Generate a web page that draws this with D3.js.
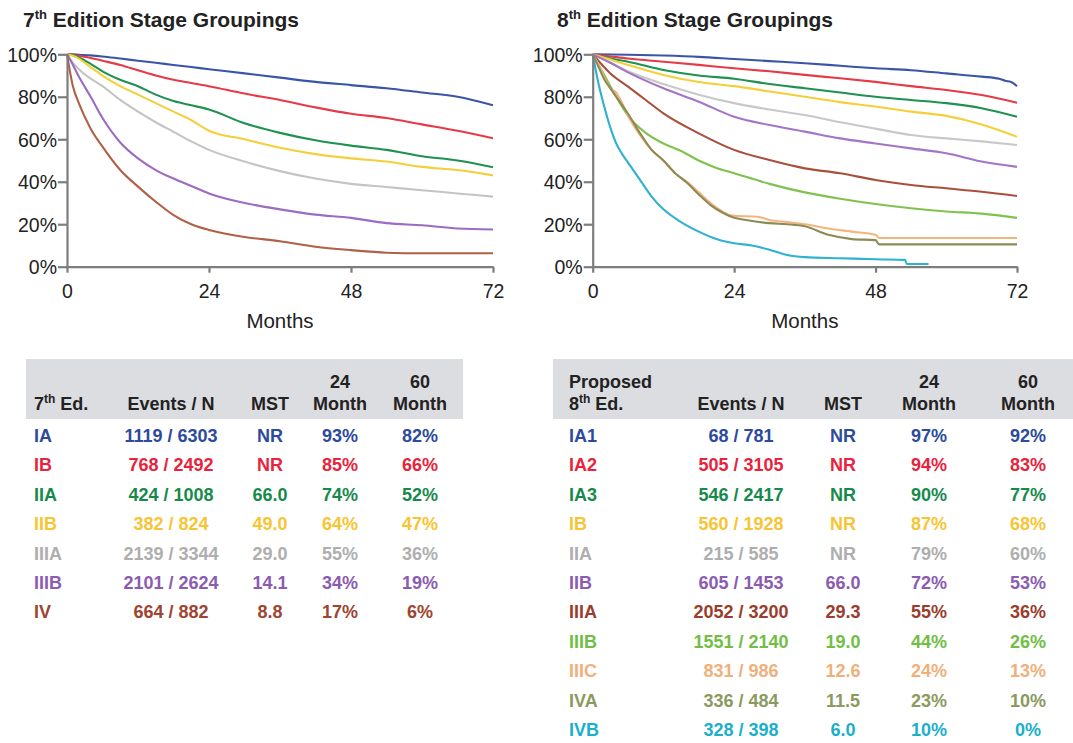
<!DOCTYPE html>
<html>
<head>
<meta charset="utf-8">
<script src="https://cdn.jsdelivr.net/npm/d3@7"></script>
<style>
  html, body { margin: 0; padding: 0; background: #fff; }
  svg { display: block; font-family: "Liberation Sans", Arial, Helvetica, sans-serif; }
</style>
</head>
<body>
<svg id="chart" width="1073" height="743"></svg>
<script>
// ---------------- DATA ----------------
const xTicks = [0, 24, 48, 72];
const yTicks = [0, 20, 40, 60, 80, 100];

// 7th edition
const stages7 = ["IA", "IB", "IIA", "IIB", "IIIA", "IIIB", "IV"];
const colors7 = ["#2c4a9e", "#e8233b", "#178a4b", "#f7c534", "#aeaeae", "#8b5cb1", "#9e4430"];
const lineColors7 = ["#3a55a8", "#e63a47", "#1f9150", "#f5cf3a", "#c4c4c4", "#9c6cc2", "#b06046"];
const events7 = ["1119 / 6303", "768 / 2492", "424 / 1008", "382 / 824", "2139 / 3344", "2101 / 2624", "664 / 882"];
const mst7 = ["NR", "NR", "66.0", "49.0", "29.0", "14.1", "8.8"];
const m24_7 = ["93%", "85%", "74%", "64%", "55%", "34%", "17%"];
const m60_7 = ["82%", "66%", "52%", "47%", "36%", "19%", "6%"];

const months7 = [0, 1, 2, 4, 6, 9, 12, 15, 18, 21, 24, 30, 36, 42, 48, 54, 60, 66, 72];
const surv7_IA   = [100, 100, 99.8, 99.5, 99, 98, 97, 96, 95, 94, 93, 91, 89, 87, 85.5, 84, 82, 80, 76];
const surv7_IB   = [100, 99.8, 99.3, 98.3, 97, 95, 92.5, 90, 88, 86.5, 85, 81.5, 78.5, 75, 72, 70, 67, 64, 60.5];
const surv7_IIA  = [100, 99.5, 98.5, 95.5, 92, 88, 85, 81, 78, 76, 74, 67.5, 63, 59.5, 57, 55, 52, 50, 46.8];
const surv7_IIB  = [100, 99.3, 98, 94, 90, 85, 81, 77, 73, 69, 64, 60, 56, 53, 51, 49.5, 47, 45.5, 43];
const surv7_IIIA = [100, 96, 93, 88.5, 85, 78.5, 73, 68, 63.5, 59, 55, 49.5, 45, 41.5, 39, 37.5, 36, 34.5, 33];
const surv7_IIIB = [100, 95, 89.5, 80, 70, 58.5, 51, 45.5, 41.5, 38, 34.5, 30, 27, 24.5, 23, 20.5, 19.5, 18, 17.5];
const surv7_IV   = [100, 85, 77, 65, 56.5, 45.5, 37.7, 30.6, 24.3, 20, 17.3, 14, 12, 9.4, 7.8, 6.6, 6.3, 6.3, 6.3];
const curves7 = [surv7_IA, surv7_IB, surv7_IIA, surv7_IIB, surv7_IIIA, surv7_IIIB, surv7_IV];

// 8th edition
const stages8 = ["IA1", "IA2", "IA3", "IB", "IIA", "IIB", "IIIA", "IIIB", "IIIC", "IVA", "IVB"];
const colors8 = ["#2c4a9e", "#e8233b", "#178a4b", "#f7c534", "#aeaeae", "#8b5cb1", "#9a3d2c", "#72be45", "#f0b07b", "#8b9a5f", "#1bafcb"];
const lineColors8 = ["#3a55a8", "#e63a47", "#1f9150", "#f5cf3a", "#c8c8c8", "#a474c6", "#a8503c", "#80c24e", "#f2b57e", "#8e8a55", "#2fb2cf"];
const events8 = ["68 / 781", "505 / 3105", "546 / 2417", "560 / 1928", "215 / 585", "605 / 1453", "2052 / 3200", "1551 / 2140", "831 / 986", "336 / 484", "328 / 398"];
const mst8 = ["NR", "NR", "NR", "NR", "NR", "66.0", "29.3", "19.0", "12.6", "11.5", "6.0"];
const m24_8 = ["97%", "94%", "90%", "87%", "79%", "72%", "55%", "44%", "24%", "23%", "10%"];
const m60_8 = ["92%", "83%", "77%", "68%", "60%", "53%", "36%", "26%", "13%", "10%", "0%"];

const months8_IA1 = [0, 6, 12, 18, 24, 30, 36, 42, 48, 54, 60, 66, 69, 70, 71, 72];
const surv8_IA1   = [100, 99.8, 99.4, 98.8, 97.8, 96.8, 95.8, 94.6, 93.4, 92.5, 91, 89.5, 88.5, 87.5, 87, 85];
const months8_std = [0, 3, 6, 12, 18, 24, 30, 36, 42, 48, 54, 60, 66, 72];
const surv8_IA2   = [100, 99, 98, 96.5, 95, 93.4, 92, 90.3, 88.7, 87, 85, 83.2, 80.8, 77.2];
const surv8_IA3   = [100, 98, 96.5, 92.6, 90, 88.5, 86, 84, 82, 80, 78.5, 77, 74.6, 70.6];
const surv8_IB    = [100, 97.5, 95, 90.3, 87, 85, 82.5, 80, 77.5, 75.4, 73, 71, 67, 61.2];
const surv8_IIA   = [100, 96, 92, 86, 81, 77, 74, 71.4, 68, 65, 62, 60.4, 59, 57.3];
const surv8_IIB   = [100, 96, 91.5, 84, 77.7, 70.6, 66.7, 63.6, 60.4, 58, 55.7, 53.4, 49.5, 47];
const months8_IIIA = [0, 3, 6, 9, 12, 18, 24, 30, 36, 42, 48, 54, 60, 66, 72];
const surv8_IIIA   = [100, 91, 84.8, 78.5, 72.2, 62.8, 55, 50.2, 46.3, 44, 40.8, 38.5, 36.9, 35.3, 33.3];
const months8_IIIB = [0, 2, 4, 6, 9, 12, 15, 18, 21, 24, 30, 36, 42, 48, 54, 60, 66, 72];
const surv8_IIIB   = [100, 90, 80, 71, 63, 58, 54.5, 50, 46.5, 44, 39, 35, 32, 29.5, 27.5, 26, 25, 23];
const months8_IIIC = [0, 1, 2, 3, 4, 5, 6, 8, 10, 12, 14, 16, 18, 20, 22, 23, 24, 28, 30, 33, 36, 40, 44, 48, 48.6, 72];
const surv8_IIIC   = [100, 95, 89, 84, 82, 77, 71, 62, 55, 50, 44, 40, 35, 30, 26, 24.5, 24, 23.5, 22, 21, 20, 18, 16.5, 15, 13.5, 13.5];
const months8_IVA  = [0, 1, 2, 3, 4, 6, 8, 10, 12, 14, 16, 18, 20, 22, 24, 26, 30, 33, 36, 40, 44, 48, 48.6, 72];
const surv8_IVA    = [100, 94, 88, 84, 80, 72, 63, 55, 50, 44, 39.5, 34, 29, 25.5, 23, 22, 20.5, 20, 19, 15, 13, 12.5, 10.5, 10.5];
const months8_IVB  = [0, 1, 2, 3, 4, 5, 6, 8, 10, 12, 15, 18, 21, 24, 27, 30, 33, 36, 42, 48, 53, 53.3, 57];
const surv8_IVB    = [100, 86, 75, 65.5, 58, 53, 49, 41, 33, 27, 21, 16.5, 13, 11, 10, 8, 5.5, 4.5, 4, 3.5, 3.2, 1.3, 1.3];

const curves8 = [
  [months8_IA1, surv8_IA1], [months8_std, surv8_IA2], [months8_std, surv8_IA3], [months8_std, surv8_IB],
  [months8_std, surv8_IIA], [months8_std, surv8_IIB], [months8_IIIA, surv8_IIIA], [months8_IIIB, surv8_IIIB],
  [months8_IIIC, surv8_IIIC], [months8_IVA, surv8_IVA], [months8_IVB, surv8_IVB]
];

// ---------------- DRAW ----------------
const svg = d3.select("#chart");
const FONT_TEXT = "#222";

function title(x, num, sup, rest) {
  const t = svg.append("text").attr("x", x).attr("y", 27)
    .attr("font-size", 21).attr("font-weight", "bold").attr("fill", FONT_TEXT);
  t.append("tspan").text(num);
  t.append("tspan").attr("font-size", 13).attr("dy", -8).text(sup);
  t.append("tspan").attr("dy", 8).text(rest);
}
title(23, "7", "th", " Edition Stage Groupings");
title(557, "8", "th", " Edition Stage Groupings");

function drawChart(x0, x1, series) {
  const x = d3.scaleLinear().domain([0, 72]).range([x0, x1]);
  const y = d3.scaleLinear().domain([0, 100]).range([266.7, 54.3]);
  const g = svg.append("g");

  const line = d3.line().x(d => x(d[0])).y(d => y(d[1])).curve(d3.curveMonotoneX);
  series.forEach(s => {
    g.append("path")
      .datum(s.pts)
      .attr("d", line)
      .attr("fill", "none")
      .attr("stroke", s.color)
      .attr("stroke-width", 2.1)
      .attr("stroke-linejoin", "round");
  });

  const yAxis = d3.axisLeft(y).tickValues(yTicks).tickFormat(d => d + "%").tickSize(9).tickSizeOuter(0).tickPadding(1);
  const gy = g.append("g").attr("transform", `translate(${x0},0)`).call(yAxis);
  const xAxis = d3.axisBottom(x).tickValues(xTicks).tickSize(6).tickSizeOuter(0);
  const gx = g.append("g").attr("transform", `translate(0,${y(0)})`).call(xAxis);

  [gy, gx].forEach(a => {
    a.select(".domain").attr("stroke", "#7d7d7d").attr("stroke-width", 2.2);
    a.selectAll(".tick line").attr("stroke", "#7d7d7d").attr("stroke-width", 2.2);
    a.selectAll(".tick text").attr("fill", FONT_TEXT).attr("font-size", 19.5)
      .attr("font-family", "Liberation Sans, Arial, sans-serif");
  });
  gx.selectAll(".tick text").attr("dy", null).attr("y", 31.5);
  gy.selectAll(".tick text").attr("dy", "0.36em");

  svg.append("text").attr("x", (x0 + x1) / 2).attr("y", 328)
    .attr("text-anchor", "middle").attr("font-size", 20.5).attr("fill", FONT_TEXT).text("Months");
}

drawChart(67, 493, stages7.map((s, i) => ({
  color: lineColors7[i],
  pts: months7.map((m, j) => [m, curves7[i][j]])
})));

drawChart(592.7, 1017, stages8.map((s, i) => ({
  color: lineColors8[i],
  pts: curves8[i][0].map((m, j) => [m, curves8[i][1][j]])
})));

// ---------------- TABLES ----------------
function drawTable(opts) {
  const { bgX0, bgX1, labelX, cols, stages, colors, cells, headerLines } = opts;
  svg.append("rect").attr("x", bgX0).attr("y", 359).attr("width", bgX1 - bgX0).attr("height", 60)
    .attr("fill", "#dcdde0");

  headerLines.forEach(h => {
    const t = svg.append("text").attr("x", h.x).attr("y", h.y)
      .attr("text-anchor", h.anchor).attr("font-size", 18).attr("font-weight", "bold").attr("fill", FONT_TEXT);
    if (h.sup) {
      t.append("tspan").text(h.text[0]);
      t.append("tspan").attr("font-size", 12).attr("dy", -7).text(h.sup);
      t.append("tspan").attr("dy", 7).text(h.text[1]);
    } else {
      t.text(h.text);
    }
  });

  const rowY = d3.scaleLinear().domain([0, 10]).range([442, 736]);
  stages.forEach((s, i) => {
    svg.append("text").attr("x", labelX).attr("y", rowY(i)).attr("font-size", 18)
      .attr("font-weight", "bold").attr("fill", colors[i]).text(s);
    cells.forEach((col, c) => {
      svg.append("text").attr("x", cols[c]).attr("y", rowY(i)).attr("text-anchor", "middle")
        .attr("font-size", 18).attr("font-weight", "bold").attr("fill", colors[i]).text(col[i]);
    });
  });
}

drawTable({
  bgX0: 26, bgX1: 463, labelX: 34,
  cols: [171, 270, 340, 420],
  stages: stages7, colors: colors7,
  cells: [events7, mst7, m24_7, m60_7],
  headerLines: [
    { x: 34, y: 410, anchor: "start", text: ["7", " Ed."], sup: "th" },
    { x: 171, y: 410, anchor: "middle", text: "Events / N" },
    { x: 270, y: 410, anchor: "middle", text: "MST" },
    { x: 340, y: 388, anchor: "middle", text: "24" },
    { x: 340, y: 410, anchor: "middle", text: "Month" },
    { x: 420, y: 388, anchor: "middle", text: "60" },
    { x: 420, y: 410, anchor: "middle", text: "Month" }
  ]
});

drawTable({
  bgX0: 553, bgX1: 1073, labelX: 569,
  cols: [741, 843, 929, 1028],
  stages: stages8, colors: colors8,
  cells: [events8, mst8, m24_8, m60_8],
  headerLines: [
    { x: 569, y: 388, anchor: "start", text: "Proposed" },
    { x: 569, y: 410, anchor: "start", text: ["8", " Ed."], sup: "th" },
    { x: 741, y: 410, anchor: "middle", text: "Events / N" },
    { x: 843, y: 410, anchor: "middle", text: "MST" },
    { x: 929, y: 388, anchor: "middle", text: "24" },
    { x: 929, y: 410, anchor: "middle", text: "Month" },
    { x: 1028, y: 388, anchor: "middle", text: "60" },
    { x: 1028, y: 410, anchor: "middle", text: "Month" }
  ]
});
</script>
</body>
</html>
